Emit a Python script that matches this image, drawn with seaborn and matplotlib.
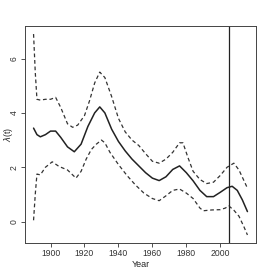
import matplotlib
matplotlib.use("Agg")
import matplotlib.pyplot as plt
import seaborn as sns
import pandas as pd

sns.set_style("white")
plt.rcParams['font.family'] = ['Liberation Sans', 'DejaVu Sans']

# Estimated intensity lambda(t)
est_years = [1890, 1892, 1894, 1897, 1900, 1903, 1906, 1910, 1914, 1918, 1922, 1926,
             1929, 1932, 1936, 1940, 1944, 1948, 1952, 1956, 1960, 1964, 1968, 1972,
             1976, 1980, 1984, 1988, 1992, 1996, 2000, 2004, 2007, 2010, 2013, 2016]
est_vals = [3.44, 3.2, 3.12, 3.2, 3.33, 3.33, 3.1, 2.75, 2.57, 2.85, 3.5, 4.0,
            4.22, 4.0, 3.4, 2.95, 2.6, 2.3, 2.05, 1.8, 1.6, 1.51, 1.65, 1.92,
            2.05, 1.8, 1.5, 1.15, 0.92, 0.92, 1.08, 1.25, 1.3, 1.15, 0.8, 0.37]

# Upper confidence band
up_years = [1890, 1891, 1892, 1894, 1897, 1900, 1903, 1906, 1910, 1913, 1916, 1920,
            1923, 1926, 1929, 1932, 1936, 1940, 1944, 1948, 1952, 1956, 1960, 1964,
            1968, 1972, 1976, 1978, 1981, 1984, 1988, 1992, 1996, 2000, 2004, 2008,
            2011, 2014, 2016]
up_vals = [6.9, 5.5, 4.5, 4.47, 4.5, 4.5, 4.57, 4.2, 3.6, 3.47, 3.55, 3.9,
           4.45, 5.1, 5.5, 5.3, 4.6, 3.8, 3.3, 3.0, 2.8, 2.5, 2.22, 2.15,
           2.3, 2.55, 2.9, 2.9, 2.35, 1.85, 1.55, 1.4, 1.45, 1.7, 2.0, 2.15,
           1.9, 1.5, 1.23]

# Lower confidence band
lo_years = [1890, 1891, 1892, 1894, 1897, 1901, 1905, 1910, 1915, 1918, 1921, 1924,
            1927, 1930, 1932, 1935, 1940, 1945, 1950, 1955, 1960, 1964, 1968, 1972,
            1976, 1980, 1984, 1988, 1990, 1995, 2000, 2003, 2005, 2008, 2011, 2014,
            2016]
lo_vals = [0.05, 1.0, 1.75, 1.72, 2.0, 2.2, 2.03, 1.9, 1.6, 1.85, 2.3, 2.65,
           2.85, 3.0, 2.9, 2.55, 2.1, 1.7, 1.35, 1.05, 0.85, 0.77, 0.95, 1.15,
           1.2, 1.05, 0.85, 0.5, 0.4, 0.43, 0.44, 0.5, 0.58, 0.42, 0.2, -0.2,
           -0.49]

vline_year = 2005
x_ticks = [1900, 1920, 1940, 1960, 1980, 2000]
y_ticks = [0, 2, 4, 6]

df_est = pd.DataFrame({"Year": est_years, "val": est_vals})
df_up = pd.DataFrame({"Year": up_years, "val": up_vals})
df_lo = pd.DataFrame({"Year": lo_years, "val": lo_vals})

fig = plt.figure(figsize=(2.66, 2.77), dpi=100)
ax = fig.add_axes([25/266, 34/277, 231/266, 217/277])

sns.lineplot(data=df_est, x="Year", y="val", ax=ax, color="#222222", lw=1.1)
sns.lineplot(data=df_up, x="Year", y="val", ax=ax, color="#333333", lw=0.9)
sns.lineplot(data=df_lo, x="Year", y="val", ax=ax, color="#333333", lw=0.9)
for ln in ax.lines[1:]:
    ln.set_linestyle((0, (3, 2.2)))
ax.axvline(vline_year, color="#222222", lw=0.9)

allx = est_years + up_years + lo_years
ally = est_vals + up_vals + lo_vals
xr = max(allx) - min(allx)
yr = max(ally) - min(ally)
ax.set_xlim(min(allx) - 0.04 * xr, max(allx) + 0.04 * xr)
ax.set_ylim(min(ally) - 0.04 * yr, max(ally) + 0.04 * yr)

ax.set_xticks(x_ticks)
ax.set_yticks(y_ticks)
ax.set_xticklabels([str(t) for t in x_ticks], fontsize=6.2)
ax.set_yticklabels([str(t) for t in y_ticks], fontsize=6.2, rotation=90, va="center")
ax.tick_params(axis="both", direction="out", length=3, width=0.6, pad=1.5,
               colors="#333333", bottom=True, left=True)
ax.set_xlabel("Year", fontsize=6.5, labelpad=1)
ax.set_ylabel(r"$\lambda$(t)", fontsize=6.2)
ax.yaxis.set_label_coords(-0.045, 0.5)
for s in ax.spines.values():
    s.set_visible(True)
    s.set_color("#444444")
    s.set_linewidth(0.7)

fig.savefig("out.png", dpi=100)
